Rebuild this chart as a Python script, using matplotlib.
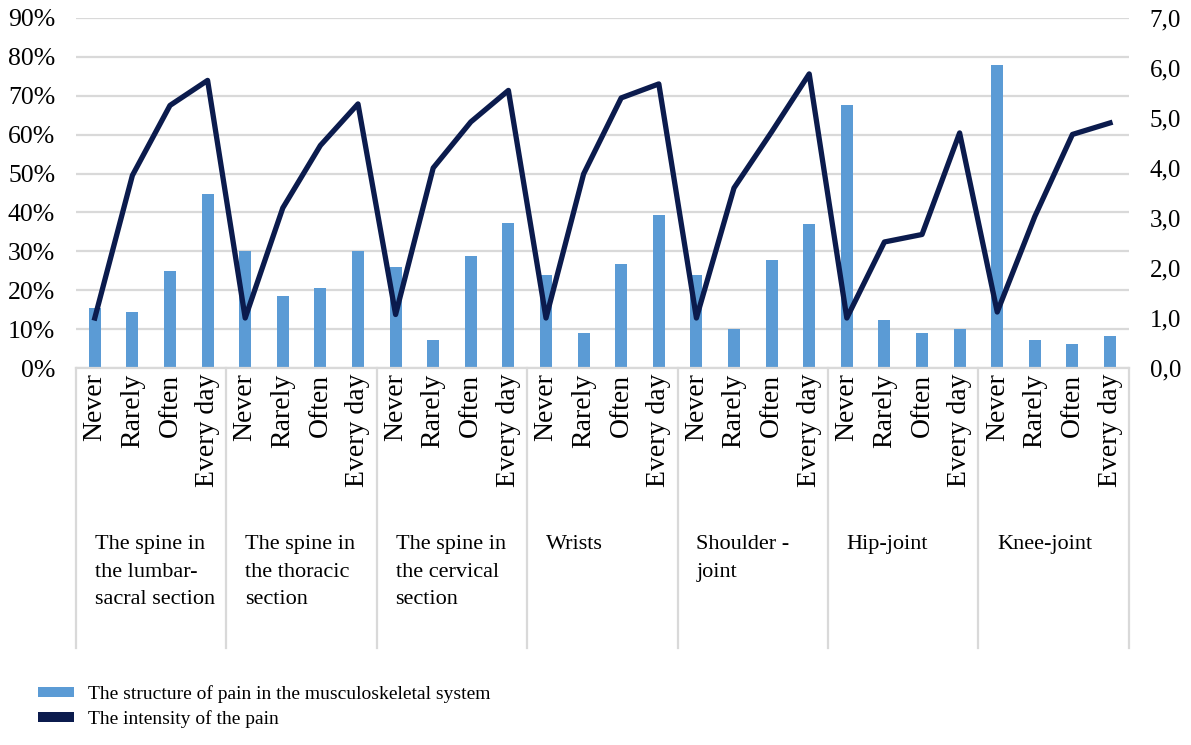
import numpy as np
import matplotlib
matplotlib.use("Agg")
import matplotlib.pyplot as plt
from matplotlib.patches import Patch
from matplotlib.ticker import FuncFormatter
from matplotlib.transforms import blended_transform_factory

plt.rcParams["font.family"] = ["Liberation Serif", "DejaVu Serif"]

# body regions (each has four frequency answers)
groups = [
    "The spine in\nthe lumbar-\nsacral section",
    "The spine in\nthe thoracic\nsection",
    "The spine in\nthe cervical\nsection",
    "Wrists",
    "Shoulder -\njoint",
    "Hip-joint",
    "Knee-joint",
]
frequency = ["Never", "Rarely", "Often", "Every day"]

# share of respondents, %
pain_structure = [
    15.5, 14.5, 25.0, 44.8,
    30.0, 18.5, 20.5, 30.0,
    26.0, 7.2, 28.8, 37.2,
    23.8, 9.0, 26.8, 39.4,
    23.8, 10.0, 27.8, 37.1,
    67.5, 12.3, 9.0, 10.0,
    78.0, 7.2, 6.1, 8.2,
]

# mean pain intensity, score
pain_intensity = [
    1.0, 3.85, 5.25, 5.75,
    1.0, 3.2, 4.45, 5.28,
    1.07, 4.0, 4.92, 5.55,
    1.0, 3.88, 5.4, 5.68,
    1.0, 3.6, 4.72, 5.88,
    1.0, 2.52, 2.67, 4.7,
    1.12, 3.03, 4.67, 4.9,
]

bar_color = "#5b9bd5"
line_color = "#0b1b4d"
grid_color = "#d9d9d9"

labels = frequency * len(groups)
x = np.arange(len(labels))

fig = plt.figure(figsize=(11.91, 7.45), dpi=100)
ax = fig.add_axes([0.0638, 0.506, 0.884, 0.470])

ax.bar(x, pain_structure, width=0.32, color=bar_color, zorder=2)
ax.set_xlim(-0.5, len(labels) - 0.5)
ax.set_ylim(0, 90)
ax.set_yticks(np.arange(0, 91, 10))
ax.yaxis.set_major_formatter(FuncFormatter(lambda v, _: f"{v:.0f}%"))
ax.grid(axis="y", color=grid_color, lw=1.6)
ax.set_axisbelow(True)
for side in ("top", "left", "right"):
    ax.spines[side].set_visible(False)
ax.spines["bottom"].set_color(grid_color)
ax.spines["bottom"].set_linewidth(1.6)
ax.tick_params(axis="y", length=0, labelsize=18.5, pad=15)
ax.tick_params(axis="x", length=0, labelsize=20, pad=4)
ax.set_xticks(x)
ax.set_xticklabels(labels, rotation=90, va="top", ha="center")

ax2 = ax.twinx()
ax2.plot(x, pain_intensity, color=line_color, lw=3.8, zorder=3)
ax2.set_ylim(0, 7)
ax2.set_yticks(np.arange(0, 8, 1))
ax2.yaxis.set_major_formatter(FuncFormatter(lambda v, _: f"{v:.1f}".replace(".", ",")))
ax2.tick_params(axis="y", length=0, labelsize=18, pad=15)
for side in ax2.spines:
    ax2.spines[side].set_visible(False)

# category table below the axis: separators and region names
trans = blended_transform_factory(ax.transData, ax.transAxes)
n = len(frequency)
for k in range(len(groups) + 1):
    xs = k * n - 0.5
    ax.plot([xs, xs], [0, -0.80], transform=trans, color=grid_color,
            lw=1.6, clip_on=False)
for k, name in enumerate(groups):
    ax.text(k * n - 0.5 + 0.5, -0.478, name, transform=trans,
            ha="left", va="top", fontsize=16, linespacing=1.58)

handles = [
    Patch(facecolor=bar_color, edgecolor="none"),
    Patch(facecolor=line_color, edgecolor="none"),
]
fig.legend(handles,
           ["The structure of pain in the musculoskeletal system",
            "The intensity of the pain"],
           loc="upper left", bbox_to_anchor=(0.032, 0.080),
           frameon=False, fontsize=14, handlelength=1.85, handleheight=0.42,
           handletextpad=0.72, labelspacing=0.35, borderpad=0,
           borderaxespad=0)

fig.savefig("out.png", dpi=100)
